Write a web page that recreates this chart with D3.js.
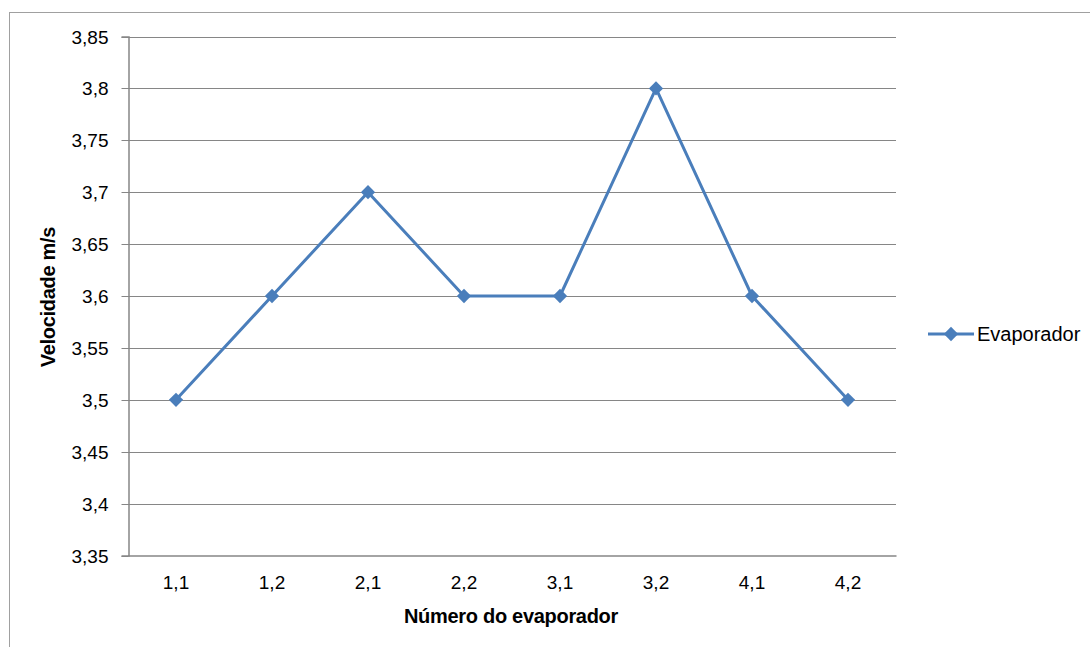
<!DOCTYPE html>
<html>
<head>
<meta charset="utf-8">
<script src="https://cdn.jsdelivr.net/npm/d3@7"></script>
<style>
  html, body { margin: 0; padding: 0; background: #fff; }
  svg { display: block; font-family: "Liberation Sans", Arial, sans-serif; }
</style>
</head>
<body>
<svg id="chart" width="1090" height="647"></svg>
<script>
// Air speed measured at each evaporator
const categories = ["1,1", "1,2", "2,1", "2,2", "3,1", "3,2", "4,1", "4,2"];
const velocity = [3.5, 3.6, 3.7, 3.6, 3.6, 3.8, 3.6, 3.5];
const yTicks = [3.35, 3.4, 3.45, 3.5, 3.55, 3.6, 3.65, 3.7, 3.75, 3.8, 3.85];
const seriesName = "Evaporador";
const xTitle = "Número do evaporador";
const yTitle = "Velocidade m/s";

const svg = d3.select("#chart");
const plot = { left: 128, right: 896, top: 36.5, bottom: 555.5 };
const lineColor = "#4a7ebb";
const gridColor = "#868686";

// Outer chart frame
svg.append("rect")
  .attr("x", 9.5).attr("y", 12.5)
  .attr("width", 1100).attr("height", 700)
  .attr("fill", "none").attr("stroke", "#a0a0a0").attr("stroke-width", 1);

const x = d3.scaleBand().domain(categories).range([plot.left, plot.right]);
const y = d3.scaleLinear().domain([3.35, 3.85]).range([plot.bottom, plot.top]);
const fmt = v => d3.format(".2~f")(v).replace(".", ",");

// Horizontal gridlines
svg.append("g")
  .selectAll("line")
  .data(yTicks.slice(1))
  .join("line")
  .attr("x1", plot.left).attr("x2", plot.right)
  .attr("y1", d => Math.round(y(d)) + 0.5).attr("y2", d => Math.round(y(d)) + 0.5)
  .attr("stroke", gridColor).attr("stroke-width", 1);

// Y axis
const yAxis = svg.append("g")
  .attr("transform", `translate(${plot.left + 0.5},0)`)
  .call(d3.axisLeft(y).tickValues(yTicks).tickFormat(fmt).tickSize(7).tickPadding(13));
yAxis.select(".domain").attr("stroke", gridColor).attr("stroke-width", 1.5);
yAxis.selectAll(".tick line").attr("stroke", gridColor);
yAxis.selectAll(".tick text").attr("font-size", 19).attr("fill", "#000")
  .attr("font-family", "'Liberation Sans', Arial, sans-serif");
yAxis.selectAll(".tick").attr("transform", d => `translate(0,${Math.round(y(d)) + 0.5})`);

// X axis
const xAxis = svg.append("g")
  .attr("transform", `translate(0,${plot.bottom})`)
  .call(d3.axisBottom(x).tickSize(0).tickPadding(20));
xAxis.select(".domain").attr("stroke", gridColor).attr("stroke-width", 1.5);
xAxis.selectAll(".tick text").attr("font-size", 19).attr("fill", "#000")
  .attr("font-family", "'Liberation Sans', Arial, sans-serif");

// Series line
const cx = d => x(d) + x.bandwidth() / 2;
svg.append("path")
  .datum(categories.map((c, i) => [cx(c), y(velocity[i])]))
  .attr("d", d3.line())
  .attr("fill", "none").attr("stroke", lineColor).attr("stroke-width", 3)
  .attr("stroke-linejoin", "round");

// Diamond markers
const diamond = d3.symbol().type(d3.symbolDiamond2).size(130);
svg.append("g")
  .selectAll("path")
  .data(categories)
  .join("path")
  .attr("d", diamond)
  .attr("transform", (c, i) => `translate(${cx(c)},${y(velocity[i])})`)
  .attr("fill", lineColor);

// Legend
const lg = svg.append("g").attr("transform", "translate(928,334)");
lg.append("line").attr("x1", 0).attr("x2", 46).attr("y1", 0).attr("y2", 0)
  .attr("stroke", lineColor).attr("stroke-width", 3);
lg.append("path").attr("d", diamond).attr("transform", "translate(23,0)").attr("fill", lineColor);
lg.append("text").attr("x", 49).attr("y", 7).attr("font-size", 20).attr("fill", "#000")
  .text(seriesName);

// Axis titles
svg.append("text")
  .attr("x", (plot.left + plot.right) / 2 - 1).attr("y", 623)
  .attr("text-anchor", "middle").attr("font-size", 20).attr("font-weight", "bold")
  .attr("letter-spacing", -0.3)
  .text(xTitle);

svg.append("text")
  .attr("transform", `translate(55,297) rotate(-90)`)
  .attr("text-anchor", "middle").attr("font-size", 20).attr("font-weight", "bold")
  .attr("letter-spacing", -0.3)
  .text(yTitle);
</script>
</body>
</html>
